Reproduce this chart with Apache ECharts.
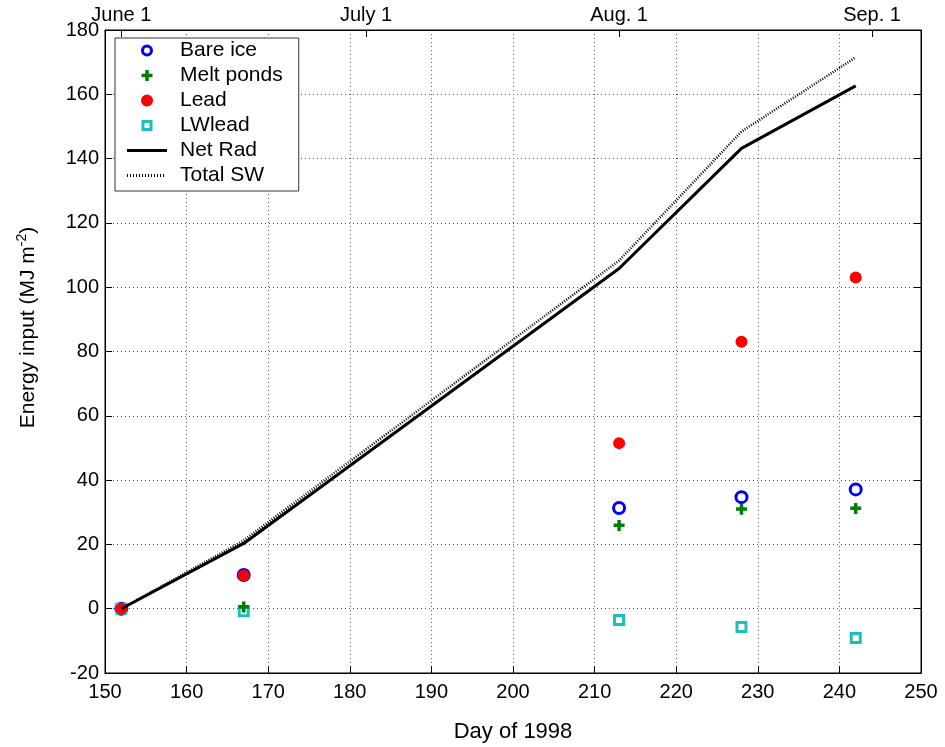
<!DOCTYPE html>
<html>
<head>
<meta charset="utf-8">
<script src="https://cdn.jsdelivr.net/npm/echarts@6/dist/echarts.min.js"></script>
<style>html,body{margin:0;padding:0;background:#fff;}#c{width:945px;height:747px;}</style>
</head>
<body>
<div id="c"></div>
<script>
var days = [152, 167, 213, 228, 242];
var bareIce = [0, 10.5, 31.3, 34.7, 37.1];
var meltPonds = [0, 0.5, 25.9, 30.9, 31.2];
var lead = [0, 10.3, 51.5, 83.0, 103.0];
var lwLead = [0, -0.8, -3.5, -5.7, -9.1];
var netRad = [0, 20.3, 105.8, 143.2, 162.6];
var totalSW = [0, 21.2, 108.3, 148.4, 171.5];
var dateTicks = [152, 182, 213, 244];
var dateLabels = ['June 1', 'July 1', 'Aug. 1', 'Sep. 1'];

function pairs(ys) { return days.map(function (d, i) { return [d, ys[i]]; }); }

var font = 'Liberation Sans, Arial, sans-serif';
var plusPath = 'path://M0,3.5 L11,3.5 L11,7 L0,7 Z M3.75,0 L7.25,0 L7.25,11 L3.75,11 Z';

// legend icons drawn inside a 40x14 box (corner anchors keep the box size)
var anchors = 'M0,0 L0.01,0 L0,0.01 Z M40,14 L39.99,14 L40,13.99 Z ';
var ringIcon = 'path://' + anchors + 'M14,7 A6,6 0 1,1 26,7 A6,6 0 1,1 14,7 Z M17,7 A3,3 0 1,0 23,7 A3,3 0 1,0 17,7 Z';
var dotIcon = 'path://' + anchors + 'M14,7 A6,6 0 1,1 26,7 A6,6 0 1,1 14,7 Z';
var plusIcon = 'path://' + anchors + 'M14.5,5.25 L25.5,5.25 L25.5,8.75 L14.5,8.75 Z M18.25,1.5 L21.75,1.5 L21.75,12.5 L18.25,12.5 Z';
var squareIcon = 'path://' + anchors + 'M14.5,1.5 L25.5,1.5 L25.5,12.5 L14.5,12.5 Z M17.5,4.5 L17.5,9.5 L22.5,9.5 L22.5,4.5 Z';
var solidIcon = 'path://' + anchors + 'M0,5.5 L40,5.5 L40,8.5 L0,8.5 Z';
var dottedIcon = 'path://' + anchors;
for (var k = 0; k < 13; k++) {
  var x0 = k * 3;
  dottedIcon += 'M' + x0 + ',5.5 L' + (x0 + 1) + ',5.5 L' + (x0 + 1) + ',8.5 L' + x0 + ',8.5 Z ';
}

var chart = echarts.init(document.getElementById('c'));
chart.setOption({
  animation: false,
  backgroundColor: '#fff',
  grid: { left: 105, right: 24, top: 30, bottom: 74, outerBoundsMode: 'none', containLabel: false,
    show: true, borderColor: '#000', borderWidth: 1, backgroundColor: '#fff' },
  legend: {
    orient: 'vertical', left: 115, top: 38,
    backgroundColor: '#fff', borderColor: '#333', borderWidth: 1,
    padding: [0, 16, 3, 12], itemGap: 0, itemWidth: 40, itemHeight: 14,
    textStyle: { fontFamily: font, fontSize: 21, lineHeight: 25, color: '#000', padding: [0, 0, 0, 8] },
    data: [
      { name: 'Bare ice', icon: ringIcon, itemStyle: { color: '#0000ff', borderWidth: 0, opacity: 1 } },
      { name: 'Melt ponds', icon: plusIcon, itemStyle: { color: '#007f00', borderWidth: 0, opacity: 1 } },
      { name: 'Lead', icon: dotIcon, itemStyle: { color: '#ff0000', borderWidth: 0, opacity: 1 } },
      { name: 'LWlead', icon: squareIcon, itemStyle: { color: '#1cbfbf', borderWidth: 0, opacity: 1 } },
      { name: 'Net Rad', icon: solidIcon, itemStyle: { color: '#000', borderWidth: 0, opacity: 1 } },
      { name: 'Total SW', icon: dottedIcon, itemStyle: { color: '#000', borderWidth: 0, opacity: 1 } }
    ]
  },
  xAxis: [{
    type: 'value', min: 150, max: 250, interval: 10, position: 'bottom',
    name: 'Day of 1998', nameLocation: 'middle', nameGap: 48,
    nameTextStyle: { fontFamily: font, fontSize: 22, color: '#000' },
    axisLine: { onZero: false, lineStyle: { color: '#000' } },
    axisTick: { inside: true, length: 7, lineStyle: { color: '#000' } },
    axisLabel: { fontFamily: font, fontSize: 20, color: '#000', margin: 9 },
    splitLine: { show: true, lineStyle: { color: '#555', type: [1, 3], width: 1 } }
  }, {
    type: 'value', min: 150, max: 250, position: 'top',
    axisLine: { onZero: false, lineStyle: { color: '#000' } },
    axisTick: { inside: true, length: 7, customValues: dateTicks, lineStyle: { color: '#000' } },
    axisLabel: { fontFamily: font, fontSize: 20, color: '#000', margin: 5, customValues: dateTicks,
      formatter: function (v) { var i = dateTicks.indexOf(v); return i >= 0 ? dateLabels[i] : ''; } },
    splitLine: { show: false }
  }],
  yAxis: [{
    type: 'value', min: -20, max: 180, interval: 20, position: 'left',
    name: 'Energy input (MJ m{sup|-2})', nameLocation: 'middle', nameGap: 64,
    nameTextStyle: { fontFamily: font, fontSize: 21, color: '#000', padding: [0, 0, 0, 48],
      rich: { sup: { fontFamily: font, fontSize: 14, color: '#000', verticalAlign: 'top', padding: [0, 0, 12, 0] } } },
    axisLine: { show: true, onZero: false, lineStyle: { color: '#000' } },
    axisTick: { show: true, inside: true, length: 7, lineStyle: { color: '#000' } },
    axisLabel: { fontFamily: font, fontSize: 20, color: '#000', margin: 6 },
    splitLine: { show: true, lineStyle: { color: '#555', type: [1, 3], width: 1 } }
  }, {
    type: 'value', min: -20, max: 180, interval: 20, position: 'right',
    axisLine: { show: true, onZero: false, lineStyle: { color: '#000' } },
    axisTick: { show: true, inside: true, length: 7, lineStyle: { color: '#000' } },
    axisLabel: { show: false },
    splitLine: { show: false }
  }],
  series: [{
    name: 'Bare ice', type: 'scatter', data: pairs(bareIce), z: 3,
    symbol: 'circle', symbolSize: 11,
    itemStyle: { color: 'rgba(255,255,255,0)', borderColor: '#0000ff', borderWidth: 3, opacity: 1 }
  }, {
    name: 'LWlead', type: 'scatter', data: pairs(lwLead), z: 3,
    symbol: 'rect', symbolSize: 9,
    itemStyle: { color: 'rgba(255,255,255,0)', borderColor: '#1cbfbf', borderWidth: 3, opacity: 1 }
  }, {
    name: 'Melt ponds', type: 'scatter', data: pairs(meltPonds), z: 4,
    symbol: plusPath, symbolSize: 11,
    itemStyle: { color: '#007f00', opacity: 1 }
  }, {
    name: 'Lead', type: 'scatter', data: pairs(lead), z: 4,
    symbol: 'circle', symbolSize: 12,
    itemStyle: { color: '#ff0000', opacity: 1 }
  }, {
    name: 'Net Rad', type: 'line', data: pairs(netRad), z: 5,
    symbol: 'none', lineStyle: { color: '#000', width: 3 }, itemStyle: { color: '#000' }
  }, {
    name: 'Total SW', type: 'line', data: pairs(totalSW), z: 5,
    symbol: 'none', lineStyle: { color: '#000', width: 2.5, type: [1, 1.5] }, itemStyle: { color: '#000' }
  }]
});
</script>
</body>
</html>
